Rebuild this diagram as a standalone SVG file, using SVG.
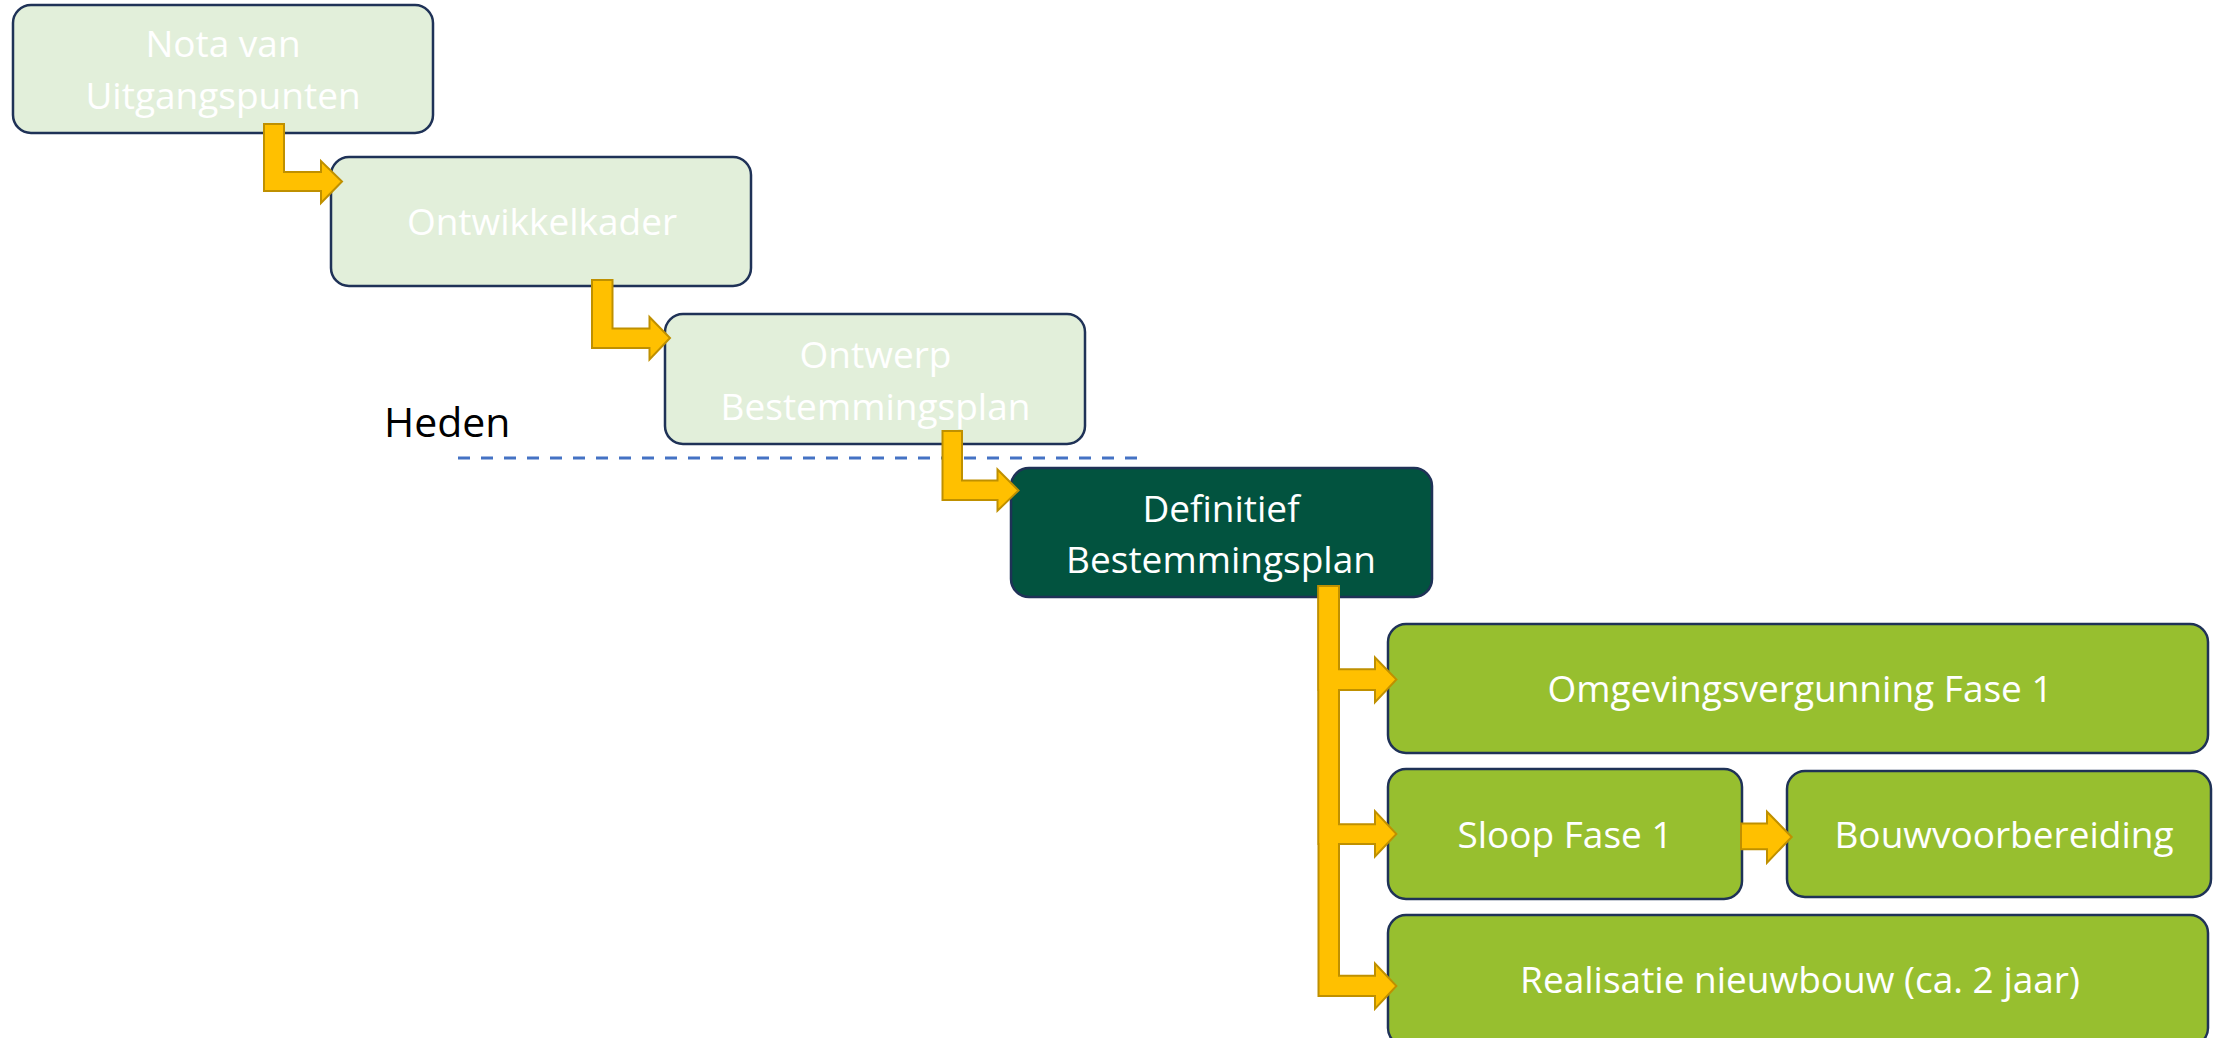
<svg xmlns="http://www.w3.org/2000/svg" width="2216" height="1038" viewBox="0 0 2216 1038">
<style>
.box{stroke:#1F3257;stroke-width:2.5}
.light{fill:#E2EFDA}
.dark{fill:#02533F}
.green{fill:#97BF2F}
.t{font-family:"Open Sans","Liberation Sans",sans-serif;font-size:37px;fill:#FFFFFF;text-anchor:middle}
.heden{font-family:"Open Sans","Liberation Sans",sans-serif;font-size:41px;fill:#000000}
.arr{fill:#FFC000;stroke:#BF9000;stroke-width:2;stroke-linejoin:miter}
.arrs{fill:#FFC000;stroke:#BF9000;stroke-width:4;stroke-linejoin:miter}
.arrf{fill:#FFC000;stroke:none}
.dash{stroke:#4472C4;stroke-width:3;stroke-dasharray:12 11;fill:none}
</style>
<defs>
<polygon id="b4" points="1319.5,587 1338,587 1338,670.3 1376,670.3 1376,660 1395,679.5 1376,699.7 1376,689 1319.5,689"/>
<polygon id="b5" points="1319.5,587 1338,587 1338,825.3 1376,825.3 1376,813.7 1395,834 1376,854 1376,843 1319.5,843"/>
<polygon id="b6" points="1319.5,587 1338,587 1338,976.7 1376,976.7 1376,966 1395,986 1376,1006.3 1376,995 1319.5,995"/>
</defs>

<g id="heden">
<text class="heden" x="384" y="437">Heden</text>
<line class="dash" x1="458" y1="458" x2="1147" y2="458"/>
</g>

<g id="node-nota">
<rect class="box light" x="13" y="5" width="420" height="128" rx="18"/>
<text class="t" x="223" y="57">Nota van</text>
<text class="t" x="223" y="108.5">Uitgangspunten</text>
</g>

<g id="node-ontwikkelkader">
<rect class="box light" x="331" y="157" width="420" height="129" rx="18"/>
<text class="t" x="542" y="235">Ontwikkelkader</text>
</g>

<g id="node-ontwerp">
<rect class="box light" x="665" y="314" width="420" height="130" rx="18"/>
<text class="t" x="875.5" y="367.5">Ontwerp</text>
<text class="t" x="875.5" y="420">Bestemmingsplan</text>
</g>

<g id="node-definitief">
<rect class="box dark" x="1011" y="468" width="421" height="129" rx="18"/>
<text class="t" x="1221" y="521.7">Definitief</text>
<text class="t" x="1221" y="573.3">Bestemmingsplan</text>
</g>

<g id="node-omgevingsvergunning">
<rect class="box green" x="1388" y="624" width="820" height="129" rx="18"/>
<text class="t" x="1800" y="702.3">Omgevingsvergunning Fase 1</text>
</g>

<g id="node-sloop">
<rect class="box green" x="1388" y="769" width="354" height="130" rx="18"/>
<text class="t" x="1565" y="848.3">Sloop Fase 1</text>
</g>

<g id="node-bouwvoorbereiding">
<rect class="box green" x="1787" y="771" width="424" height="126" rx="18"/>
<text class="t" x="2004" y="848.3">Bouwvoorbereiding</text>
</g>

<g id="node-realisatie">
<rect class="box green" x="1388" y="915" width="820" height="131" rx="18"/>
<text class="t" x="1800" y="993.3">Realisatie nieuwbouw (ca. 2 jaar)</text>
</g>

<g id="connectors">
<polygon class="arr" points="264,124 284,124 284,172 321,172 321,161 342,181.5 321,203 321,191 264,191"/>
<polygon class="arr" points="592,280 612.5,280 612.5,328.5 649.5,328.5 649.5,317 670,338 649.5,359.5 649.5,348 592,348"/>
<polygon class="arr" points="942.5,431 962,431 962,480.5 997.5,480.5 997.5,469.5 1018.5,490.5 997.5,510.7 997.5,500 942.5,500"/>
<use href="#b6" class="arrs"/>
<use href="#b5" class="arrs"/>
<use href="#b4" class="arrs"/>
<use href="#b6" class="arrf"/>
<use href="#b5" class="arrf"/>
<use href="#b4" class="arrf"/>
<polygon class="arr" points="1741,823.5 1767,823.5 1767,811.7 1791.7,837 1767,862.7 1767,849.3 1741,849.3"/>
</g>
</svg>
